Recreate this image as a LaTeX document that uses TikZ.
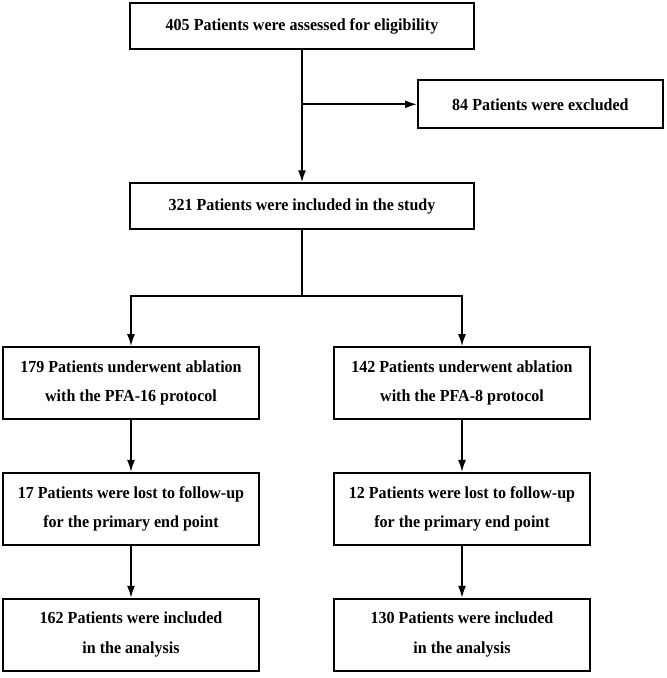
\documentclass[tikz,border=0pt]{standalone}
\usepackage{fontspec}
\setmainfont{Liberation Serif}[FakeStretch=0.95]
\usetikzlibrary{arrows.meta, positioning, calc}

\begin{document}
\begin{tikzpicture}[
        node distance=1.3cm,
        box/.style={rectangle, draw, line width=1.3pt, align=center, inner sep=0pt,
            font=\bfseries\fontsize{12}{21}\selectfont},
        widebox/.style={box, minimum width=8.6cm, minimum height=1.15cm},
        armbox/.style={box, minimum width=6.4cm, minimum height=1.8cm},
        flow/.style={line width=1.2pt, -{Latex[length=3mm,width=2mm]}}
    ]
        \useasboundingbox (0,0) rectangle (16.65,-16.95);

        % Enrolment
        \node[widebox] (assessed) at (7.55,-0.66) {405 Patients were assessed for eligibility};
        \node[widebox, below=3.3cm of assessed] (included) {321 Patients were included in the study};
        \coordinate[below=1.35cm of assessed.south] (exclpt);
        \node[box, minimum width=6.125cm, minimum height=1.2cm, right=2.875cm of exclpt] (excluded) {84 Patients were excluded};

        % Arms
        \coordinate[below=1.65cm of included.south] (split);
        \node[armbox, below=2.9cm of included, xshift=-4.275cm] (pfa16) {179 Patients underwent ablation\\with the PFA-16 protocol};
        \node[armbox, below=2.9cm of included, xshift=4cm] (pfa8) {142 Patients underwent ablation\\with the PFA-8 protocol};

        % Follow-up
        \node[armbox, below=of pfa16] (lost16) {17 Patients were lost to follow-up\\for the primary end point};
        \node[armbox, below=of pfa8] (lost8) {12 Patients were lost to follow-up\\for the primary end point};

        % Analysis
        \node[armbox, below=of lost16] (final16) {162 Patients were included\\in the analysis};
        \node[armbox, below=of lost8] (final8) {130 Patients were included\\in the analysis};

        % Connections
        \draw[flow] (assessed) -- (included);
        \draw[flow] (exclpt) -- (excluded);
        \draw[line width=1.2pt] (included) -- (split);
        \draw[flow] (split) -| (pfa16);
        \draw[flow] (split) -| (pfa8);
        \draw[flow] (pfa16) -- (lost16);
        \draw[flow] (pfa8) -- (lost8);
        \draw[flow] (lost16) -- (final16);
        \draw[flow] (lost8) -- (final8);
    \end{tikzpicture}
\end{document}
